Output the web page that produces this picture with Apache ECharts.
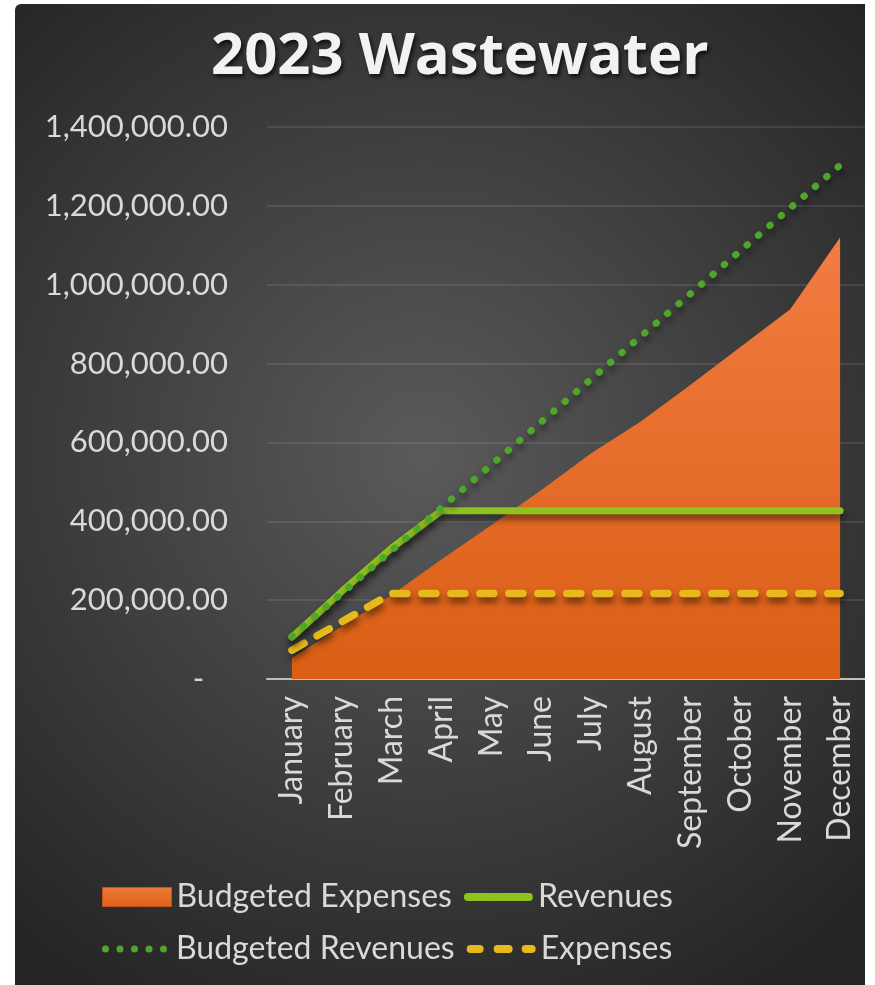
<!DOCTYPE html>
<html>
<head>
<meta charset="utf-8">
<script src="https://cdn.jsdelivr.net/npm/echarts@6/dist/echarts.min.js"></script>
<style>
html,body{margin:0;padding:0;background:#ffffff;width:875px;height:985px;overflow:hidden;}
#chart{position:absolute;left:15px;top:4px;width:850px;height:981px;border-top-left-radius:6px;overflow:hidden;}
</style>
</head>
<body>
<div id="chart"></div>
<script>
const titleText = '2023 Wastewater';
const months = ['January','February','March','April','May','June','July','August','September','October','November','December'];
const budgetedExpenses = [53000,133000,213000,303000,390000,479000,572000,653000,746000,842000,938000,1120000];
const revenues = [106000,222000,332000,427000,427000,427000,427000,427000,427000,427000,427000,427000];
const budgetedRevenues = [108600,217200,325800,434400,543000,651600,760200,868800,977400,1086000,1194600,1303200];
const expenses = [73000,145000,217000,217000,217000,217000,217000,217000,217000,217000,217000,217000];
const yTicks = {min:0, max:1400000, interval:200000};

const chart = echarts.init(document.getElementById('chart'), null, {renderer:'canvas'});
const FONT = 'Lato';
const shadow = {shadowColor:'rgba(0,0,0,0.55)', shadowBlur:7, shadowOffsetX:1, shadowOffsetY:5};
const orangeGrad = {type:'linear',x:0,y:0,x2:0,y2:1,colorStops:[{offset:0,color:'#f27c42'},{offset:1,color:'#da5e14'}]};
const orangeGradIcon = {type:'linear',x:0,y:0,x2:0,y2:1,colorStops:[{offset:0,color:'#f07a3c'},{offset:1,color:'#dc6018'}]};

// legend key shapes (box 69 x 19)
const BOX = 'M0 0 M69 19 ';
const iconSolid = 'path://' + BOX + 'M4 5.5 L65 5.5 A4 4 0 0 1 65 13.5 L4 13.5 A4 4 0 0 1 4 5.5 Z';
function dot(cx){ return 'M' + (cx-3.5) + ' 9.5 A3.5 3.5 0 1 1 ' + (cx+3.5) + ' 9.5 A3.5 3.5 0 1 1 ' + (cx-3.5) + ' 9.5 Z '; }
const iconDots = 'path://' + BOX + dot(3.5) + dot(18) + dot(32.5) + dot(47) + dot(61.5);
function dash(x1,x2){ return 'M' + (x1+4) + ' 5.5 L' + (x2-4) + ' 5.5 A4 4 0 0 1 ' + (x2-4) + ' 13.5 L' + (x1+4) + ' 13.5 A4 4 0 0 1 ' + (x1+4) + ' 5.5 Z '; }
const iconDash = 'path://' + BOX + dash(0,17) + dash(27,46) + dash(55,69);

const legendText = {fontFamily:FONT, fontSize:32, color:'#d9d9d9', width:281};

const option = {
  backgroundColor: {
    type:'radial', x:0.48, y:0.46, r:0.75,
    colorStops:[{offset:0,color:'#5a5a5a'},{offset:1,color:'#242424'}]
  },
  animation:false,
  title:{
    text:titleText, left:191, top:19,
    textStyle:{fontFamily:'Open Sans', fontWeight:'bold', fontSize:58, color:'#f2f2f2',
      textShadowColor:'rgba(0,0,0,0.7)', textShadowBlur:4, textShadowOffsetX:2, textShadowOffsetY:3}
  },
  grid:{left:252, right:0, top:123, bottom:306, containLabel:false},
  legend:[
    {
      data:[
        {name:'Budgeted Expenses', icon:'rect', itemStyle:{color:orangeGradIcon, borderColor:'#c65418', borderWidth:1}},
        {name:'Revenues', icon:iconSolid, itemStyle:{color:'#8fc21f'}}
      ],
      left:87, top:877, padding:0, orient:'horizontal',
      itemWidth:69, itemHeight:19, itemGap:12,
      textStyle:legendText
    },
    {
      data:[
        {name:'Budgeted Revenues', icon:iconDots, itemStyle:{color:'#4ea72a'}},
        {name:'Expenses', icon:iconDash, itemStyle:{color:'#e8b91d'}}
      ],
      left:87, top:929, padding:0, orient:'horizontal',
      itemWidth:69, itemHeight:19, itemGap:12,
      textStyle:legendText
    }
  ],
  xAxis:{
    type:'category', data:months, boundaryGap:true,
    axisLine:{lineStyle:{color:'#bfbfbf', width:2}},
    axisTick:{show:false},
    axisLabel:{rotate:90, margin:17, fontFamily:FONT, fontSize:32, color:'#d9d9d9', interval:0}
  },
  yAxis:{
    type:'value', min:yTicks.min, max:yTicks.max, interval:yTicks.interval,
    axisLine:{show:false}, axisTick:{show:false},
    splitLine:{lineStyle:{color:'rgba(255,255,255,0.13)', width:1.5}},
    axisLabel:{margin:39, fontFamily:FONT, fontSize:31, color:'#d9d9d9',
      formatter:function(v){
        if(v===0) return '-   ';
        return v.toLocaleString('en-US',{minimumFractionDigits:2, maximumFractionDigits:2});
      }}
  },
  series:[
    {
      name:'Budgeted Expenses', type:'line', data:budgetedExpenses, symbol:'none',
      lineStyle:{width:0}, z:1,
      itemStyle:{color:orangeGrad},
      areaStyle:{opacity:1, color:orangeGrad}
    },
    {
      name:'Revenues', type:'line', data:revenues, symbol:'none', z:3,
      itemStyle:{color:'#8fc21f'},
      lineStyle:Object.assign({color:'#8fc21f', width:7, cap:'round', join:'round'}, shadow)
    },
    {
      name:'Budgeted Revenues', type:'line', data:budgetedRevenues, symbol:'none', z:4,
      itemStyle:{color:'#4ea72a'},
      lineStyle:Object.assign({color:'#4ea72a', width:7, type:[0.5,14.5], cap:'round'}, shadow)
    },
    {
      name:'Expenses', type:'line', data:expenses, symbol:'none', z:2,
      itemStyle:{color:'#e8b91d'},
      lineStyle:Object.assign({color:'#e8b91d', width:7.5, type:[14,15], cap:'round'}, shadow)
    }
  ]
};
chart.setOption(option);
</script>
</body>
</html>
